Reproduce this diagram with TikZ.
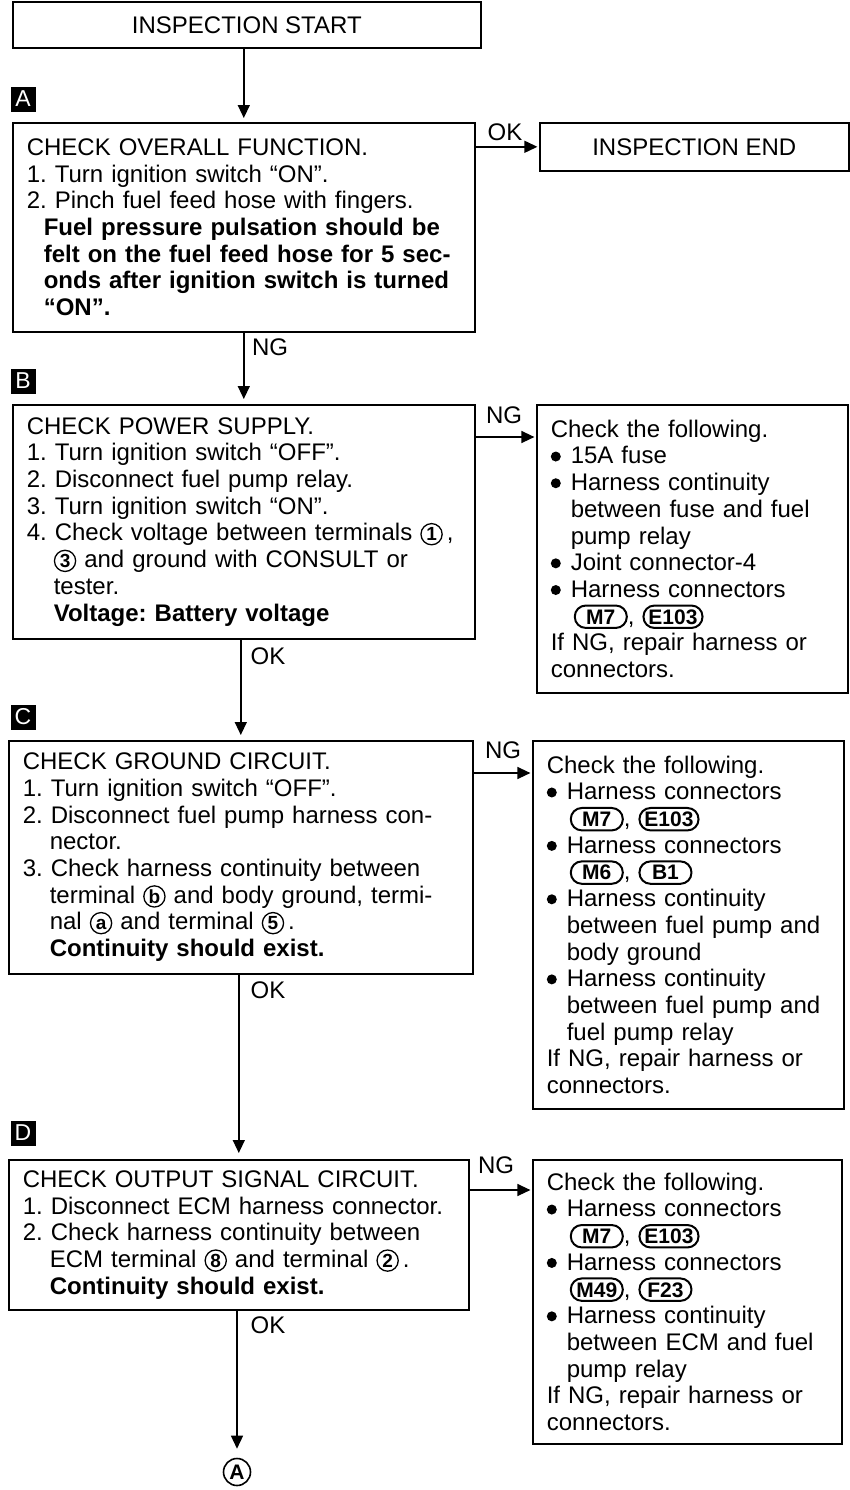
\documentclass[tikz,border=0pt]{standalone}
\usepackage{fontspec}
\setmainfont{Liberation Sans}
\usetikzlibrary{arrows.meta,calc}
\newcommand\bodyfont{\fontsize{12pt}{13.35pt}\selectfont\frenchspacing}
\newcommand\ind{\hspace*{13.5pt}}
\newcommand\indA{\hspace*{8.5pt}}
\newcommand\bul{\makebox[10pt][l]{\begin{pgfpicture}\pgfsetbaseline{0pt}%
\pgfpathcircle{\pgfpoint{2.7pt}{3.7pt}}{2.5pt}\pgfusepath{fill}\end{pgfpicture}}}
\newcommand\bind{\hspace*{10pt}}
\newcommand\oind{\hspace*{11.5pt}}
\newsavebox\connbox
\newlength\connlen
\newcommand\cnum[1]{\begin{pgfpicture}\pgfsetbaseline{0pt}\pgfsetlinewidth{0.65pt}%
\pgfpathcircle{\pgfpoint{0pt}{3.4pt}}{5.3pt}\pgfusepath{stroke}%
\pgftext[base]{\bfseries\fontsize{9.5pt}{9.5pt}\selectfont #1}\end{pgfpicture}}
\newcommand\connoval[1]{\sbox\connbox{\bfseries\fontsize{10.5pt}{10.5pt}\selectfont #1}%
\setlength\connlen{\wd\connbox}\addtolength\connlen{5pt}%
\ifdim\connlen<26pt \setlength\connlen{26pt}\fi
\begin{pgfpicture}\pgfsetbaseline{0pt}\pgfsetlinewidth{1pt}%
\pgfsetcornersarced{\pgfpoint{5.5pt}{5.5pt}}%
\pgfpathrectangle{\pgfpoint{-0.5\connlen}{-1.9pt}}{\pgfpoint{\connlen}{11.2pt}}\pgfusepath{stroke}%
\pgftext[base]{\usebox\connbox}\end{pgfpicture}}
\begin{document}
\begin{tikzpicture}[x=0.5pt,y=-0.5pt,
  box/.style={draw,line width=0.8pt,anchor=north west,align=left,inner xsep=7pt,inner ysep=0pt,font=\bodyfont},
  tbox/.style={draw,line width=0.8pt,anchor=north west,align=center,inner sep=0pt,font=\bodyfont},
  lbl/.style={inner sep=0pt,font=\bodyfont},
  stepsq/.style={fill=black,text=white,minimum size=12.5pt,inner sep=0pt,font=\fontsize{11.5pt}{11.5pt}\selectfont},
  arr/.style={-{Triangle[length=6.5pt,width=6pt]},line width=0.7pt}]
\useasboundingbox (0,0) rectangle (850,1490);

% boxes
\node[tbox,minimum width=234pt,minimum height=23pt] (start) at (12,1) {INSPECTION START};

\node[stepsq] (sA) at (23,99) {A};
\node[box,text width=217pt,minimum height=104.5pt] (A) at (12,122) {CHECK OVERALL FUNCTION.\\
1. Turn ignition switch “ON”.\\
2. Pinch fuel feed hose with fingers.\\
\indA\textbf{Fuel pressure pulsation should be}\\
\indA\textbf{felt on the fuel feed hose for 5 sec-}\\
\indA\textbf{onds after ignition switch is turned}\\
\indA\textbf{“ON”.}};

\node[tbox,minimum width=154.5pt,minimum height=24pt] (iend) at (539,122) {INSPECTION END};

\node[stepsq] (sB) at (23,381) {B};
\node[box,text width=217pt,minimum height=117pt] (B) at (12,404) {CHECK POWER SUPPLY.\\
1. Turn ignition switch “OFF”.\\
2. Disconnect fuel pump relay.\\
3. Turn ignition switch “ON”.\\
4. Check voltage between terminals \cnum{1}\,,\\
\ind\cnum{3}\ and ground with CONSULT or\\
\ind tester.\\
\ind\textbf{Voltage: Battery voltage}};

\node[box,text width=141.5pt,minimum height=144pt] (rB) at (536,404) {Check the following.\\
\bul 15A fuse\\
\bul Harness continuity\\
\bind between fuse and fuel\\
\bind pump relay\\
\bul Joint connector-4\\
\bul Harness connectors\\
\oind\connoval{M7}, \connoval{E103}\\
If NG, repair harness or\\
connectors.};

\node[stepsq] (sC) at (23,717) {C};
\node[box,text width=218pt,minimum height=116.5pt] (C) at (8,740) {CHECK GROUND CIRCUIT.\\
1. Turn ignition switch “OFF”.\\
2. Disconnect fuel pump harness con-\\
\ind nector.\\
3. Check harness continuity between\\
\ind terminal \cnum{b}\ and body ground, termi-\\
\ind nal \cnum{a}\ and terminal \cnum{5}\,.\\
\ind\textbf{Continuity should exist.}};

\node[box,text width=141.5pt,minimum height=184pt] (rC) at (532,740) {Check the following.\\
\bul Harness connectors\\
\oind\connoval{M7}, \connoval{E103}\\
\bul Harness connectors\\
\oind\connoval{M6}, \connoval{B1}\\
\bul Harness continuity\\
\bind between fuel pump and\\
\bind body ground\\
\bul Harness continuity\\
\bind between fuel pump and\\
\bind fuel pump relay\\
If NG, repair harness or\\
connectors.};

\node[stepsq] (sD) at (23,1133) {D};
\node[box,text width=216pt,minimum height=75pt] (D) at (8,1159) {CHECK OUTPUT SIGNAL CIRCUIT.\\
1. Disconnect ECM harness connector.\\
2. Check harness continuity between\\
\ind ECM terminal \cnum{8}\ and terminal \cnum{2}\,.\\
\ind\textbf{Continuity should exist.}};

\node[box,text width=140.5pt,minimum height=142pt] (rD) at (532,1159) {Check the following.\\
\bul Harness connectors\\
\oind\connoval{M7}, \connoval{E103}\\
\bul Harness connectors\\
\oind\connoval{M49}, \connoval{F23}\\
\bul Harness continuity\\
\bind between ECM and fuel\\
\bind pump relay\\
If NG, repair harness or\\
connectors.};

\node[circle,draw,line width=0.8pt,minimum size=13.5pt,inner sep=0pt,font=\bfseries\fontsize{10.5pt}{10.5pt}\selectfont] (fin) at (237,1472) {A};

% connectors
\draw[arr,shorten >=2pt] (start.south -| A.north) -- (A.north);
\draw[arr,shorten >=0.8pt] (A.east |- iend.west) -- (iend.west);
\node[lbl] (okA) at (505,132) {OK};
\draw[arr,shorten >=2.5pt] (A.south -| B.north) -- (B.north);
\node[lbl] (ngA) at (270,347) {NG};

\coordinate (bng) at ($(B.north east)+(0,33)$);
\draw[arr,shorten >=0.8pt] (bng) -- (bng -| rB.west);
\node[lbl] (ngB) at (504,415) {NG};
\draw[arr,shorten >=2.5pt] (B.south -| C.north) -- (C.north);
\node[lbl] (okB) at (268,656) {OK};

\coordinate (cng) at ($(C.north east)+(0,33)$);
\draw[arr,shorten >=0.8pt] (cng) -- (cng -| rC.west);
\node[lbl] (ngC) at (503,750) {NG};
\draw[arr,shorten >=3pt] (C.south -| D.north) -- (D.north);
\node[lbl] (okC) at (268,990) {OK};

\coordinate (dng) at ($(D.north east)+(0,31)$);
\draw[arr,shorten >=0.8pt] (dng) -- (dng -| rD.west);
\node[lbl] (ngD) at (496,1165) {NG};
\draw[arr,shorten >=4.5pt] (fin.north |- D.south) -- (fin.north);
\node[lbl] (okD) at (268,1325) {OK};
\end{tikzpicture}
\end{document}
